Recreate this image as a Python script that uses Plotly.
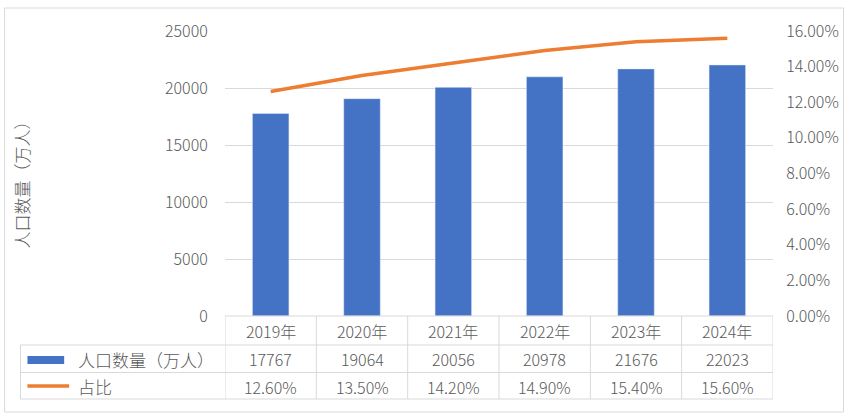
import plotly.graph_objects as go

years = ["2019年", "2020年", "2021年", "2022年", "2023年", "2024年"]
population = [17767, 19064, 20056, 20978, 21676, 22023]
share = [12.60, 13.50, 14.20, 14.90, 15.40, 15.60]
series_names = ["人口数量（万人）", "占比"]
y_title = "人口数量（万人）"
left_ticks = [0, 5000, 10000, 15000, 20000, 25000]
right_ticks = [0, 2, 4, 6, 8, 10, 12, 14, 16]

W, H = 851, 415
L, R, T, B = 225, 777, 31, 316
FONT = "Noto Sans CJK SC"
WEIGHT = 300
TXT = "#595959"
GRID = "#d9d9d9"
BLUE = "#4472C4"
ORANGE = "#ED7D31"


def px(x):
    return (x - L) / (R - L)


def py(y):
    return (B - y) / (B - T)


def fnt(size=16):
    return dict(family=FONT, size=size, color=TXT, weight=WEIGHT)


fig = go.Figure()
fig.add_trace(go.Bar(x=years, y=population, marker_color=BLUE, name=series_names[0],
                     yaxis="y", hoverinfo="skip"))
fig.add_trace(go.Scatter(x=years, y=share, mode="lines", line=dict(color=ORANGE, width=3.5),
                         name=series_names[1], yaxis="y2", hoverinfo="skip"))

shapes = []
# outer border
shapes.append(dict(type="rect", xref="paper", yref="paper", x0=px(3), x1=px(848), y0=py(412), y1=py(8),
                   line=dict(color=GRID, width=1), layer="below"))
# table lines
shapes.append(dict(type="line", xref="paper", yref="paper", x0=px(L), x1=px(R), y0=py(316), y1=py(316),
                   line=dict(color=GRID, width=1)))
for yy in [345, 372.5, 399]:
    shapes.append(dict(type="line", xref="paper", yref="paper", x0=px(19), x1=px(R), y0=py(yy), y1=py(yy),
                       line=dict(color=GRID, width=1)))
shapes.append(dict(type="line", xref="paper", yref="paper", x0=px(19), x1=px(19), y0=py(345), y1=py(399),
                   line=dict(color=GRID, width=1)))
for i in range(len(years) + 1):
    shapes.append(dict(type="line", xref="x", yref="paper", x0=i - 0.5, x1=i - 0.5, y0=py(316), y1=py(399),
                       line=dict(color=GRID, width=1)))
# legend keys
shapes.append(dict(type="rect", xref="paper", yref="paper", x0=px(26), x1=px(63), y0=py(364), y1=py(356),
                   fillcolor=BLUE, line=dict(width=0)))
shapes.append(dict(type="line", xref="paper", yref="paper", x0=px(26), x1=px(68), y0=py(386), y1=py(386),
                   line=dict(color=ORANGE, width=3.5)))

ann = []
def cell(x, y, text, xref="x", xanchor="center", size=16, **kw):
    ann.append(dict(x=x, y=y, xref=xref, yref="paper", text=text, showarrow=False,
                    xanchor=xanchor, yanchor="middle", font=fnt(size), **kw))

for i, yr in enumerate(years):
    cell(yr, py(331), yr)
    cell(yr, py(359), str(population[i]))
    cell(yr, py(386.5), f"{share[i]:.2f}%")
cell(px(75), py(359), series_names[0], xref="paper", xanchor="left", size=17)
cell(px(75), py(386.5), series_names[1], xref="paper", xanchor="left", size=17)
cell(px(20), py(180), y_title, xref="paper", xanchor="center", size=17, textangle=-90)

fig.update_layout(
    width=W, height=H,
    margin=dict(l=L, r=W - R, t=T, b=H - B, pad=0),
    paper_bgcolor="white", plot_bgcolor="white",
    showlegend=False,
    bargap=0.6,
    font=fnt(16),
    xaxis=dict(range=[-0.5, 5.5], showticklabels=False, showline=False, showgrid=False, zeroline=False,
               fixedrange=True),
    yaxis=dict(range=[0, 25000], tickvals=left_ticks, ticktext=[str(v) for v in left_ticks], showgrid=True,
               gridcolor=GRID, gridwidth=1, zeroline=False, showline=False, ticks="outside",
               ticklen=13, tickcolor="rgba(0,0,0,0)", tickfont=fnt(16)),
    yaxis2=dict(range=[0, 16], overlaying="y", side="right", tickvals=right_ticks,
                ticktext=[f"{v:.2f}%" for v in right_ticks], showgrid=False,
                zeroline=False, showline=False, ticks="outside", ticklen=9, tickcolor="rgba(0,0,0,0)",
                tickfont=fnt(16)),
    shapes=shapes,
    annotations=ann,
)

fig.write_html("out.html")
